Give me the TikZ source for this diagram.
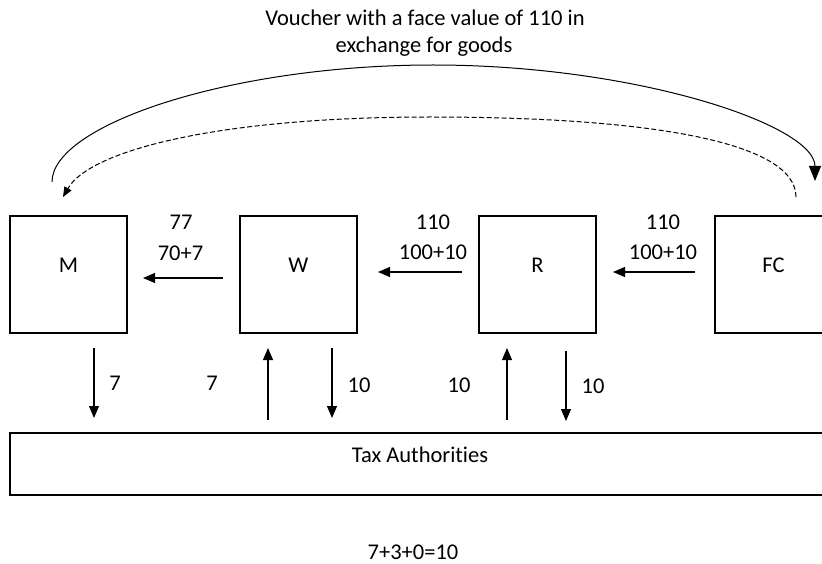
\documentclass[tikz,border=0pt]{standalone}
\usepackage{fontspec}
\setmainfont{Carlito}[Ligatures=NoCommon]
\usetikzlibrary{arrows.meta}
\begin{document}
\begin{tikzpicture}[x=1pt,y=-1pt,
  font=\fontsize{22.5}{27}\selectfont,
  stage/.style={draw, line width=1.1pt, minimum width=117pt, minimum height=117pt,
    inner sep=0pt, text depth=19pt},
  flow/.style={line width=1.1pt, -{Triangle[length=12pt,width=10pt]}},
  lbl/.style={inner sep=0pt},
  voucher/.style={line width=1pt}
]
\clip (0,0) rectangle (822,564);
\fill[white] (0,0) rectangle (822,564);

% the four trading parties
\node[stage] (M)  at (68.5,274.5)  {M};
\node[stage] (W)  at (298.5,274.5) {W};
\node[stage] (R)  at (537.5,274.5) {R};
\node[stage] (FC) at (773.5,274.5) {FC};

% tax authorities bar
\node[draw, line width=1.1pt, minimum width=820pt, minimum height=62pt,
  inner sep=0pt, text depth=18pt] (TA) at (420,464) {Tax Authorities};

% payments along the chain
\coordinate (wm0) at (223,278); \coordinate (wm1) at (143,278);
\coordinate (rw0) at (462,272); \coordinate (rw1) at (378,272);
\coordinate (fr0) at (695,272); \coordinate (fr1) at (613,272);
\draw[flow] (wm0) -- (wm1);
\draw[flow] (rw0) -- (rw1);
\draw[flow] (fr0) -- (fr1);

\node[lbl] (p1a) at (181,222.5) {77};
\node[lbl] (p1b) at (180.5,253) {70+7};
\node[lbl] (p2a) at (433,222) {110};
\node[lbl] (p2b) at (433,252) {100+10};
\node[lbl] (p3a) at (663,222) {110};
\node[lbl] (p3b) at (663,252) {100+10};

% VAT flows to and from the tax authorities
\coordinate (m0) at (94,348);  \coordinate (m1) at (94,418);
\coordinate (wu0) at (268,420); \coordinate (wu1) at (268,348);
\coordinate (wd0) at (332,348); \coordinate (wd1) at (332,418);
\coordinate (ru0) at (507,420); \coordinate (ru1) at (507,348);
\coordinate (rd0) at (566,351); \coordinate (rd1) at (566,421);
\draw[flow] (m0) -- (m1);
\draw[flow] (wu0) -- (wu1);
\draw[flow] (wd0) -- (wd1);
\draw[flow] (ru0) -- (ru1);
\draw[flow] (rd0) -- (rd1);

\node[lbl] (v1) at (115,383) {7};
\node[lbl] (v2) at (212,383) {7};
\node[lbl] (v3) at (359,385) {10};
\node[lbl] (v4) at (459,385) {10};
\node[lbl] (v5) at (593,386) {10};

\node[lbl] (sum) at (413,552.5) {7+3+0=10};

% voucher loop between M and FC
\node[lbl, anchor=base] (t1) at (425,26) {Voucher with a face value of 110 in};
\node[lbl, anchor=base] (t2) at (424,53) {exchange for goods};

\coordinate (vS) at (52,182);  \coordinate (vE) at (815,181);
\coordinate (dS) at (796,197); \coordinate (dE) at (63,197);
\draw[voucher, -{Triangle[length=15pt,width=12pt]}]
  (vS) .. controls (52,125) and (230,65) .. (433,65)
       .. controls (636,65) and (815,125) .. (vE);
\draw[voucher, dash pattern=on 5pt off 2.5pt, -{Triangle[length=10pt,width=8pt]}]
  (dS) .. controls (796,140) and (640,117) .. (430,117)
       .. controls (220,117) and (90,150) .. (dE);
\end{tikzpicture}
\end{document}
